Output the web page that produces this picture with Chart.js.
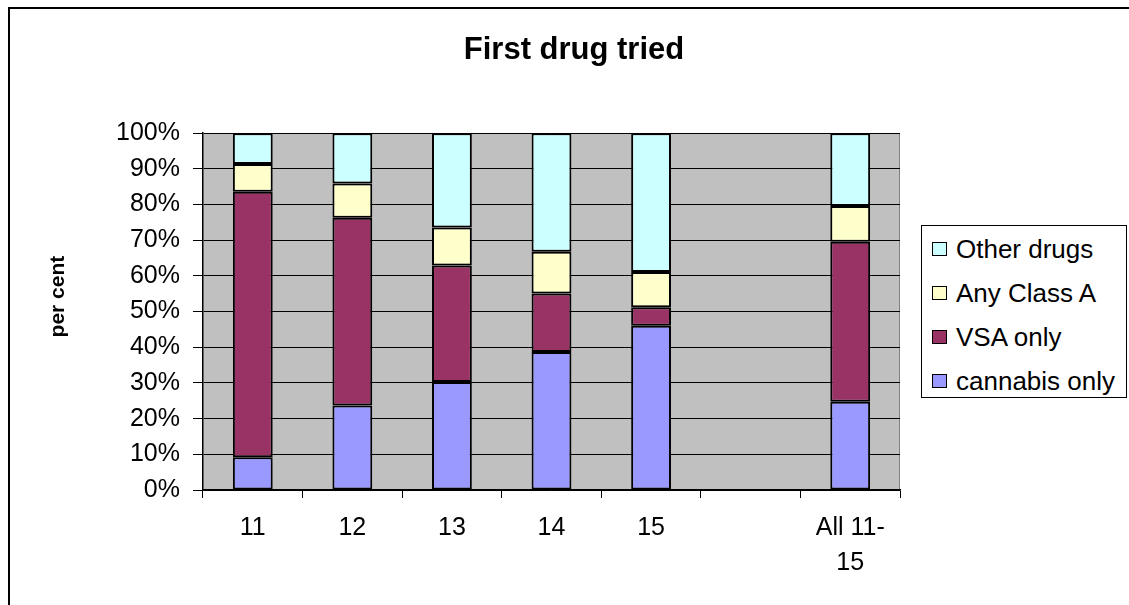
<!DOCTYPE html>
<html>
<head>
<meta charset="utf-8">
<script src="https://cdn.jsdelivr.net/npm/chart.js@4.4.1/dist/chart.umd.min.js"></script>
<style>
  html, body { margin: 0; padding: 0; background: #fff; overflow: hidden; }
  #chart { position: absolute; left: 0; top: 0; }
  #legend {
    position: absolute; left: 921px; top: 225px; width: 204px; height: 170px;
    border: 1.5px solid #000; background: #fff; padding-top: 1px;
    font-family: "Liberation Sans", Arial, sans-serif; font-size: 26px; color: #000;
  }
  #legend p { margin: 0; height: 44px; display: flex; align-items: center; }
  #legend span { display: inline-block; width: 13px; height: 12px; border: 1px solid #000; margin: 0 9px 0 10px; }
</style>
</head>
<body>
<canvas id="chart" width="1129" height="605"></canvas>
<div id="legend"></div>
<script>
const ages = ['11', '12', '13', '14', '15', '', ['All 11-', '15']];
const cannabisOnly = [9.2, 23.7, 30.3, 38.7, 46.0, null, 24.7];
const vsaOnly = [74.4, 52.6, 32.6, 16.4, 5.2, null, 44.9];
const anyClassA = [7.8, 9.6, 10.7, 11.7, 9.9, null, 10.0];
const otherDrugs = [8.6, 14.1, 26.4, 33.2, 38.9, null, 20.4];
const yTicks = [0, 10, 20, 30, 40, 50, 60, 70, 80, 90, 100];

const font = '"Liberation Sans", Arial, sans-serif';
Chart.defaults.color = '#000';
Chart.defaults.font.family = font;

const series = [
    { label: 'cannabis only', data: cannabisOnly, color: '#9999FF' },
    { label: 'VSA only', data: vsaOnly, color: '#993366' },
    { label: 'Any Class A', data: anyClassA, color: '#FFFFCC' },
    { label: 'Other drugs', data: otherDrugs, color: '#CCFFFF' }
];

// grey plot area and the outer frame (only its left and top edges are in view)
const plotBackground = {
    id: 'plotBackground',
    beforeDraw(chart) {
        const a = chart.chartArea;
        const ctx = chart.ctx;
        ctx.save();
        ctx.strokeStyle = '#000';
        ctx.lineWidth = 2;
        ctx.beginPath();
        ctx.moveTo(9, chart.height);
        ctx.lineTo(9, 8);
        ctx.lineTo(chart.width, 8);
        ctx.stroke();
        ctx.fillStyle = '#C0C0C0';
        ctx.fillRect(a.left, a.top, a.right - a.left, a.bottom - a.top);
        ctx.strokeStyle = '#808080';
        ctx.lineWidth = 1;
        ctx.beginPath();
        ctx.moveTo(a.right - 0.5, a.top);
        ctx.lineTo(a.right - 0.5, a.bottom);
        ctx.stroke();
        ctx.restore();
    }
};

// y axis title, sitting a little above the middle as in the original
const yTitle = {
    id: 'yTitle',
    afterDraw(chart) {
        const a = chart.chartArea;
        const ctx = chart.ctx;
        ctx.save();
        ctx.translate(58, (a.top + a.bottom) / 2 - 15);
        ctx.rotate(-Math.PI / 2);
        ctx.font = 'bold 21px ' + font;
        ctx.fillStyle = '#000';
        ctx.textAlign = 'center';
        ctx.textBaseline = 'middle';
        ctx.fillText('per cent', 0, 0);
        ctx.restore();
    }
};

new Chart(document.getElementById('chart'), {
    type: 'bar',
    data: {
        labels: ages,
        datasets: series.map(s => ({
            label: s.label,
            data: s.data,
            backgroundColor: s.color,
            borderColor: '#000',
            borderWidth: 2,
            borderSkipped: false,
            barPercentage: 0.4,
            categoryPercentage: 1
        }))
    },
    options: {
        responsive: false,
        animation: false,
        layout: { padding: { left: 19, right: 0, top: 0, bottom: 0 } },
        plugins: {
            legend: { display: false },
            tooltip: { enabled: false },
            title: {
                display: true,
                text: 'First drug tried',
                font: { size: 31, weight: 'bold' },
                padding: { top: 32, bottom: 64 }
            }
        },
        scales: {
            x: {
                stacked: true,
                grid: { drawOnChartArea: false, tickLength: 8, color: '#000' },
                border: { color: '#000', width: 1.5 },
                ticks: { font: { size: 25, lineHeight: 1.4 }, padding: 13, maxRotation: 0, autoSkip: false },
                afterFit(scale) { scale.height = 115; }
            },
            y: {
                stacked: true,
                min: 0,
                max: 100,
                grid: { color: '#000', tickLength: 10 },
                border: { color: '#000', width: 1.5 },
                ticks: {
                    font: { size: 25 },
                    padding: 13,
                    stepSize: 10,
                    callback: v => yTicks.includes(v) ? v + '%' : ''
                },
                afterFit(scale) { scale.width = 184; }
            },
            // empty right-hand axis that keeps room for the legend
            side: {
                position: 'right',
                display: true,
                grid: { display: false },
                border: { display: false },
                ticks: { display: false },
                afterFit(scale) { scale.width = 229; }
            }
        }
    },
    plugins: [plotBackground, yTitle]
});

// legend, top entry first as in the original
const legendBox = document.getElementById('legend');
series.slice().reverse().forEach(s => {
    const item = document.createElement('p');
    const swatch = document.createElement('span');
    swatch.style.backgroundColor = s.color;
    item.appendChild(swatch);
    item.appendChild(document.createTextNode(s.label));
    legendBox.appendChild(item);
});
</script>
</body>
</html>
